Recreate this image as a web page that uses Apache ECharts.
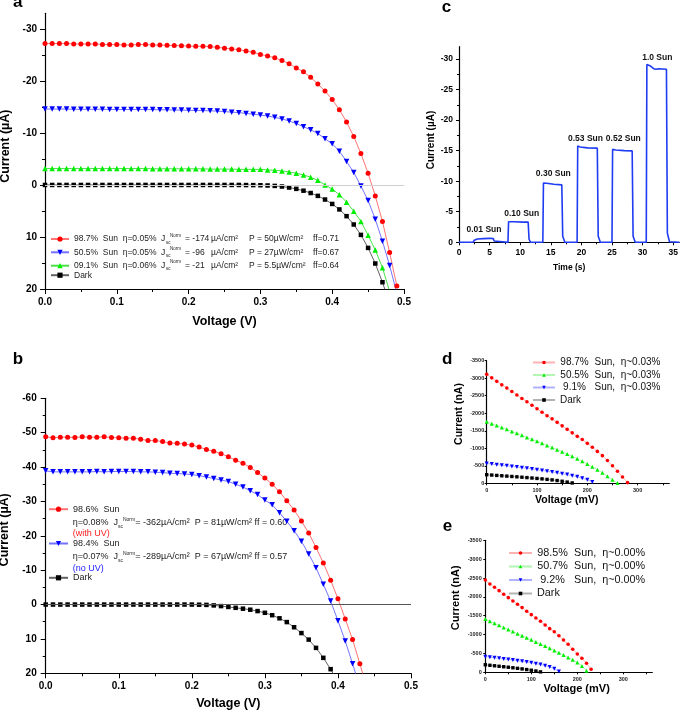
<!DOCTYPE html>
<html>
<head>
<meta charset="utf-8">
<script src="https://cdn.jsdelivr.net/npm/echarts@6.0.0/dist/echarts.min.js"></script>
<style>
html,body{margin:0;padding:0;background:#ffffff;}
#chart{width:680px;height:711px;}
</style>
</head>
<body>
<div id="chart"></div>
<script>
// ---------------- data ----------------
// Panels a & b : voltage (V)
const voltsAB = [0,0.01,0.02,0.03,0.04,0.05,0.06,0.07,0.08,0.09,0.1,0.11,0.12,0.13,0.14,0.15,0.16,0.17,0.18,0.19,0.2,0.21,0.22,0.23,0.24,0.25,0.26,0.27,0.28,0.29,0.3,0.31,0.32,0.33,0.34,0.35,0.36,0.37,0.38,0.39,0.4,0.41,0.42,0.43,0.44,0.45,0.46,0.47,0.48,0.49];

// Panel a : current (µA)
const redA = [-27.2,-27.2,-27.2,-27.2,-27.1,-27.1,-27.1,-27.1,-27.0,-27.0,
  -27.0,-26.9,-26.9,-27.0,-27.0,-26.9,-26.9,-26.85,-26.8,-26.75,
  -26.7,-26.65,-26.65,-26.6,-26.45,-26.3,-26.15,-26.0,-25.75,-25.5,
  -25.1,-24.8,-24.45,-23.95,-23.3,-22.5,-21.75,-20.7,-19.4,-18.05,
  -16.45,-14.45,-12.1,-9.3,-6.05,-2.25,2.1,7.0,13.0,19.4];
const blueA = [-14.6,-14.6,-14.6,-14.6,-14.55,-14.55,-14.55,-14.55,-14.55,-14.5,
  -14.5,-14.5,-14.5,-14.5,-14.5,-14.5,-14.45,-14.45,-14.4,-14.4,
  -14.35,-14.3,-14.3,-14.25,-14.2,-14.1,-14.0,-13.9,-13.75,-13.6,
  -13.45,-13.25,-13.0,-12.7,-12.3,-11.8,-11.2,-10.6,-9.9,-8.9,
  -7.9,-6.5,-4.5,-2.4,0.2,3.0,6.6,10.8,15.5,20.8];
const greenA = [-3.15,-3.15,-3.15,-3.15,-3.15,-3.15,-3.15,-3.15,-3.15,-3.15,
  -3.15,-3.15,-3.15,-3.15,-3.15,-3.1,-3.1,-3.1,-3.1,-3.1,
  -3.1,-3.1,-3.1,-3.05,-3.05,-3.05,-3.05,-3.0,-3.0,-3.0,
  -3.0,-2.9,-2.83,-2.7,-2.5,-2.25,-1.93,-1.48,-0.9,0.0,
  0.8,1.86,3.3,5.05,7.0,9.65,12.5,15.9,20.5,25.5];
const darkA = [0,0,0,0,0,0,0,0,0,0,
  0,0,0,0,0,0,0,0,0,0,
  0,0,0,0,0,0,0,0,0.02,0.03,
  0.05,0.1,0.18,0.3,0.5,0.75,1.1,1.55,2.1,2.8,
  3.65,4.7,6.0,7.6,9.6,12.1,15.1,18.7,22.8];

// Panel b : current (µA)
const redB = [-48.8,-48.5,-48.7,-48.7,-48.6,-48.8,-48.7,-48.7,-48.8,-48.6,
  -48.5,-48.4,-48.4,-48.1,-47.7,-47.7,-47.4,-47.0,-46.9,-46.7,
  -46.4,-45.8,-45.1,-44.6,-43.9,-43.0,-42.0,-41.1,-39.9,-38.4,
  -36.8,-35.0,-32.8,-30.2,-27.5,-24.3,-20.8,-16.6,-12.1,-7.1,
  -1.7,4.2,10.2,17.2,24.5];
const blueB = [-38.9,-38.6,-38.6,-38.6,-38.6,-38.6,-38.6,-38.7,-38.6,-38.7,
  -38.7,-38.7,-38.7,-38.6,-38.6,-38.5,-38.4,-38.2,-38.1,-38.0,
  -37.8,-37.5,-37.1,-36.7,-36.2,-35.8,-35.0,-34.2,-33.1,-32.0,
  -30.4,-29.0,-26.7,-24.2,-21.5,-18.4,-14.7,-10.7,-5.9,-1.0,
  4.7,10.6,17.2,24.0];
const darkB = [0,0,0,0,0,0,0,0,0,0,
  0,0,0,0,0,0,0,0,0,0,
  0,0.05,0.1,0.25,0.45,0.7,0.95,1.2,1.5,1.9,
  2.4,3.1,4.0,5.1,6.6,8.3,10.2,12.6,15.5,18.8,
  22.5];

// Panel c : [time (s), current (µA)]
const traceC = [[0,0],[2.3,0],[2.5,-0.35],[3.0,-0.55],[4.0,-0.6],[5.0,-0.65],[5.6,-0.6],[5.75,-0.2],[5.9,0],
  [8.0,0],[8.1,-3.35],[9.0,-3.35],[10.5,-3.3],[11.3,-3.3],[11.45,-0.5],[11.7,0],
  [13.7,0],[13.8,-9.7],[14.3,-9.65],[15.5,-9.5],[16.8,-9.4],[16.95,-1.0],[17.3,0],
  [19.3,0],[19.4,-15.75],[19.8,-15.6],[21.0,-15.45],[22.6,-15.4],[22.75,-1.0],[23.1,0],
  [25.0,0],[25.1,-15.2],[25.6,-15.1],[27.0,-15.0],[28.3,-14.95],[28.45,-1.0],[28.8,0],
  [30.6,0],[30.7,-29.1],[31.2,-28.9],[31.8,-28.4],[32.2,-28.3],[32.6,-28.4],[33.9,-28.3],[34.05,-1.5],[34.4,-0.1],[36,0]];
const pulseLabels = ['0.01 Sun','0.10 Sun','0.30 Sun','0.53 Sun','0.52 Sun','1.0 Sun'];

// Panels d & e : voltage (mV), current (nA)
const voltsDE = [0,10,20,30,40,50,60,70,80,90,100,110,120,130,140,150,160,170,180,190,200,210,220,230,240,250,260,270,280];
const redD = [-3114,-3010,-2910,-2810,-2720,-2620,-2520,-2420,-2330,-2230,-2130,-2030,-1930,-1840,-1740,-1640,-1540,-1440,-1340,-1250,-1140,-1030,-910,-790,-650,-500,-345,-180,-20];
const greenD = [-1760,-1700,-1650,-1590,-1540,-1480,-1430,-1370,-1310,-1260,-1200,-1140,-1080,-1020,-960,-900,-840,-770,-700,-630,-550,-470,-390,-300,-200,-100,-10];
const blueD = [-565,-548,-532,-516,-500,-482,-465,-447,-428,-408,-388,-367,-345,-322,-299,-274,-248,-218,-184,-145,-100,-40];
const darkD = [-245,-235,-225,-215,-205,-195,-185,-174,-163,-151,-139,-126,-112,-97,-79,-58,-35,-10];
const redE = [-2448,-2342,-2254,-2165,-2068,-1980,-1891,-1803,-1715,-1618,-1529,-1440,-1352,-1254,-1157,-1077,-971,-857,-742,-610,-485,-371,-239,-80];
const greenE = [-1410,-1355,-1300,-1245,-1190,-1135,-1080,-1025,-970,-915,-860,-805,-750,-695,-640,-580,-520,-460,-395,-330,-260,-170,-40];
const blueE = [-415,-400,-385,-370,-355,-340,-325,-308,-290,-272,-252,-230,-205,-176,-140,-95,-20];
const darkE = [-200,-186,-173,-160,-147,-134,-120,-105,-90,-73,-55,-35,-12];

// Legend texts
const sunA = ['98.7%','50.5%','09.1%'];
const etaA = ['0.05%','0.05%','0.06%'];
const jscA = ['-174','-96','-21'];
const powA = ['50','27','5.5'];
const ffA  = ['0.71','0.67','0.64'];
const sunB = ['98.6%','98.4%'];
const etaB = ['0.08%','0.07%'];
const jscB = ['-362','-289'];
const powB = ['81','67'];
const ffB  = ['0.60','0.57'];
const uvB  = ['(with UV)','(no UV)'];
const sunD = ['98.7%','50.5%','9.1%'];
const etaD = ['0.03%','0.03%','0.03%'];
const sunE = ['98.5%','50.7%','9.2%'];
const etaE = ['0.00%','0.00%','0.00%'];

// Tick values
const ticksAy = [-30,-20,-10,0,10,20];
const minorAy = [-25,-15,-5,5,15];
const ticksCx = [0,5,10,15,20,25,30,35];
const minorCx = [2.5,7.5,12.5,17.5,22.5,27.5,32.5];
const ticksCy = [-30,-25,-20,-15,-10,-5,0];
const minorCy = [-27.5,-22.5,-17.5,-12.5,-7.5,-2.5];
const ticksDEx = [0,100,200,300];
const allTicksDEx = [0,50,100,150,200,250,300,350];

// ---------------- helpers ----------------
const FONT = 'Liberation Sans, Arial, Helvetica, sans-serif';
const zip = (xs, ys) => ys.map((y, i) => [xs[i], y]);
function merge(a, b) {
  const out = Array.isArray(a) ? a.slice() : Object.assign({}, a);
  for (const k in b) {
    const v = b[k];
    if (v && typeof v === 'object' && !Array.isArray(v) && typeof v !== 'function' && a && typeof a[k] === 'object' && !Array.isArray(a[k])) {
      out[k] = merge(a[k], v);
    } else out[k] = v;
  }
  return out;
}
const AX = {
  type: 'value',
  axisLine: { show: true, onZero: false, lineStyle: { color: '#000', width: 1.2 } },
  axisTick: { show: true, inside: false, length: 5, lineStyle: { color: '#000', width: 1 } },
  axisLabel: { color: '#000', fontWeight: 'bold', fontSize: 10, fontFamily: FONT, margin: 8 },
  splitLine: { show: false },
  nameLocation: 'middle',
  nameTextStyle: { color: '#000', fontWeight: 'bold', fontFamily: FONT }
};
const ax = o => merge(AX, o);
const helper = o => merge(AX, merge({ axisLine: { show: false }, axisLabel: { show: false } }, o));

function ser(name, xi, yi, data, sym, size, color, lineColor, rot, extra) {
  return Object.assign({
    name, type: 'line', xAxisIndex: xi, yAxisIndex: yi, data,
    symbol: sym, symbolSize: size, symbolRotate: rot || 0, showAllSymbol: true,
    clip: true, animation: false,
    itemStyle: { color: color },
    lineStyle: { color: lineColor, width: 1 },
    emphasis: { disabled: true }
  }, extra || {});
}

const RED = '#ff0000', BLUE = '#0000ff', GREEN = '#00ee00', BLACK = '#000000';

// ---------------- series ----------------
const series = [
  // panel a
  ser('A-dark', 0, 0, zip(voltsAB, darkA), 'rect', 4.5, BLACK, 'rgba(70,70,70,0.85)', 0, {
    markLine: { silent: true, symbol: ['none', 'none'], label: { show: false }, animation: false,
      lineStyle: { color: '#cfcfcf', type: 'solid', width: 1 }, data: [{ yAxis: 0 }] } }),
  ser('A-green', 0, 0, zip(voltsAB, greenA), 'triangle', 5.5, GREEN, 'rgba(40,220,40,0.85)'),
  ser('A-blue', 0, 0, zip(voltsAB, blueA), 'triangle', 5.5, BLUE, 'rgba(90,90,255,0.85)', 180),
  ser('A-red', 0, 0, zip(voltsAB, redA), 'circle', 5, RED, 'rgba(255,90,90,0.85)'),
  // panel b
  ser('B-dark', 1, 2, zip(voltsAB, darkB), 'rect', 4.5, BLACK, 'rgba(70,70,70,0.85)', 0, {
    markLine: { silent: true, symbol: ['none', 'none'], label: { show: false }, animation: false,
      lineStyle: { color: '#555555', type: 'solid', width: 1 }, data: [{ yAxis: 0 }] } }),
  ser('B-blue', 1, 2, zip(voltsAB, blueB), 'triangle', 5.5, BLUE, 'rgba(90,90,255,0.85)', 180),
  ser('B-red', 1, 2, zip(voltsAB, redB), 'circle', 5, RED, 'rgba(255,90,90,0.85)'),
  // panel c
  { name: 'C-trace', type: 'line', xAxisIndex: 2, yAxisIndex: 3, data: traceC, symbol: 'none',
    animation: false, lineStyle: { color: '#1f3cf2', width: 1.6 }, emphasis: { disabled: true } },
  // panel d
  ser('D-red', 4, 5, zip(voltsDE, redD), 'circle', 3.6, RED, 'rgba(255,0,0,0.3)'),
  ser('D-green', 4, 5, zip(voltsDE, greenD), 'triangle', 4, GREEN, 'rgba(0,220,0,0.3)'),
  ser('D-blue', 4, 5, zip(voltsDE, blueD), 'triangle', 4, BLUE, 'rgba(0,0,255,0.3)', 180),
  ser('D-dark', 4, 5, zip(voltsDE, darkD), 'rect', 3.4, BLACK, 'rgba(0,0,0,0.3)'),
  // panel e
  ser('E-red', 5, 6, zip(voltsDE, redE), 'circle', 3.6, RED, 'rgba(255,0,0,0.3)'),
  ser('E-green', 5, 6, zip(voltsDE, greenE), 'triangle', 4, GREEN, 'rgba(0,220,0,0.3)'),
  ser('E-blue', 5, 6, zip(voltsDE, blueE), 'triangle', 4, BLUE, 'rgba(0,0,255,0.3)', 180),
  ser('E-dark', 5, 6, zip(voltsDE, darkE), 'rect', 3.4, BLACK, 'rgba(0,0,0,0.3)')
];

// ---------------- legends ----------------
const legendText = {};
['A-red', 'A-blue', 'A-green'].forEach((n, i) => {
  legendText[n] = `{t|${sunA[i]}  Sun  η=${etaA[i]}}{j|J}{s|sc}{n|Norm}{e|= ${jscA[i]}}{u|µA/cm²}{p|P = ${powA[i]}µW/cm²}{f|ff=${ffA[i]}}`;
});
legendText['A-dark'] = '{t|Dark}';
['B-red', 'B-blue'].forEach((n, i) => { legendText[n] = `{t|${sunB[i]}  Sun}`; });
legendText['B-dark'] = '{t|Dark}';
['D-red', 'D-green', 'D-blue'].forEach((n, i) => { legendText[n] = `{p|${sunD[i]}}{t|  Sun,  η~${etaD[i]}}`; });
legendText['D-dark'] = '{t|Dark}';
['E-red', 'E-green', 'E-blue'].forEach((n, i) => { legendText[n] = `{p|${sunE[i]}}{t|  Sun,  η~${etaE[i]}}`; });
legendText['E-dark'] = '{t|Dark}';

const richA = {
  t: { width: 87, fontSize: 8.5, lineHeight: 12, color: '#222', fontFamily: FONT },
  j: { width: 5, fontSize: 8.5, lineHeight: 12, color: '#222', fontFamily: FONT },
  s: { width: 4, fontSize: 4.5, verticalAlign: 'bottom', color: '#222', fontFamily: FONT },
  n: { width: 15, fontSize: 4.5, verticalAlign: 'top', color: '#222', fontFamily: FONT },
  e: { width: 26, fontSize: 8.5, lineHeight: 12, color: '#222', fontFamily: FONT },
  u: { width: 38, fontSize: 8.5, lineHeight: 12, color: '#222', fontFamily: FONT },
  p: { width: 64, fontSize: 8.5, lineHeight: 12, color: '#222', fontFamily: FONT },
  f: { fontSize: 8.5, lineHeight: 12, color: '#222', fontFamily: FONT }
};
const richB = { t: { fontSize: 9, lineHeight: 12, color: '#222', fontFamily: FONT } };
const richD = {
  p: { width: 29, align: 'right', fontSize: 10, lineHeight: 12, color: '#111', fontFamily: FONT },
  t: { fontSize: 10, lineHeight: 12, color: '#111', fontFamily: FONT }
};
const richE = {
  p: { width: 31, align: 'right', fontSize: 10.8, lineHeight: 13, color: '#111', fontFamily: FONT },
  t: { fontSize: 10.8, lineHeight: 13, color: '#111', fontFamily: FONT }
};
function leg(name, left, top, iw, ih, rich) {
  return {
    data: [name], left, top, orient: 'horizontal', padding: 0, itemGap: 0,
    itemWidth: iw, itemHeight: ih, selectedMode: false,
    formatter: n => legendText[n],
    textStyle: { rich, fontFamily: FONT }
  };
}
const legends = [
  leg('A-red', 50, 233, 18, 6.5, richA),
  leg('A-blue', 50, 246.3, 18, 6.5, richA),
  leg('A-green', 50, 259.7, 18, 6.5, richA),
  leg('A-dark', 50, 270.7, 18, 6.5, richA),
  leg('B-red', 48, 504.7, 19, 6.5, richB),
  leg('B-blue', 48, 539, 19, 6.5, richB),
  leg('B-dark', 48, 573.3, 19, 6.5, richB),
  leg('D-red', 532, 357.5, 22, 4.5, richD),
  leg('D-green', 532, 370, 22, 4.5, richD),
  leg('D-blue', 532, 382.5, 22, 4.5, richD),
  leg('D-dark', 532, 395, 22, 4.5, richD),
  leg('E-red', 508, 547.5, 23, 4.5, richE),
  leg('E-green', 508, 561, 23, 4.5, richE),
  leg('E-blue', 508, 574.5, 23, 4.5, richE),
  leg('E-dark', 508, 588, 23, 4.5, richE)
];

// ---------------- graphic texts ----------------
const graphics = [];
[['a', 13, 2.5], ['b', 12.7, 359.5], ['c', 441.7, 7.8], ['d', 442, 359.5], ['e', 442.7, 526.2]].forEach(l => {
  graphics.push({ type: 'text', x: l[1], y: l[2], silent: true,
    style: { text: l[0], fontSize: 17, fontWeight: 'bold', fontFamily: FONT, fill: '#000', align: 'left', verticalAlign: 'middle' } });
});
const pulsePos = [[484, 230], [521.7, 213.3], [553.3, 173.3], [585.5, 139], [623.3, 139], [657.3, 57.3]];
pulseLabels.forEach((t, i) => {
  graphics.push({ type: 'text', x: pulsePos[i][0], y: pulsePos[i][1], silent: true,
    style: { text: t, fontSize: 8.5, fontWeight: 'bold', fontFamily: FONT, fill: '#111', align: 'center', verticalAlign: 'middle' } });
});
const richBx = {
  t: { fontSize: 9, lineHeight: 12, fill: '#222', fontFamily: FONT },
  s: { fontSize: 5, verticalAlign: 'bottom', fill: '#222', fontFamily: FONT },
  n: { fontSize: 5, verticalAlign: 'top', fill: '#222', fontFamily: FONT }
};
const bLineY = [[522.7, 534], [557, 568.7]];
const uvColors = ['#ff2020', '#2020ff'];
[0, 1].forEach(i => {
  graphics.push({ type: 'text', x: 72.7, y: bLineY[i][0], silent: true,
    style: { text: `{t|η=${etaB[i]}  J}{s|sc}{n|Norm}{t|= ${jscB[i]}µA/cm²  P = ${powB[i]}µW/cm² ff = ${ffB[i]}}`,
      rich: richBx, fontSize: 9, fontFamily: FONT, fill: '#222', align: 'left', verticalAlign: 'middle' } });
  graphics.push({ type: 'text', x: 72.7, y: bLineY[i][1], silent: true,
    style: { text: uvB[i], fontSize: 9, fontFamily: FONT, fill: uvColors[i], align: 'left', verticalAlign: 'middle' } });
});

// ---------------- option ----------------
const plain = v => String(v);
const option = {
  animation: false,
  textStyle: { fontFamily: FONT },
  grid: [
    { left: 45, top: 13.3, width: 359, height: 275.7, containLabel: false, outerBoundsMode: 'none' },
    { left: 45.7, top: 398.3, width: 365.3, height: 275, containLabel: false, outerBoundsMode: 'none' },
    { left: 459, top: 46.7, width: 220.3, height: 195.6, containLabel: false, outerBoundsMode: 'none' },
    { left: 486.7, top: 360.7, width: 182.6, height: 122.6, containLabel: false, outerBoundsMode: 'none' },
    { left: 485.3, top: 540.3, width: 167, height: 132, containLabel: false, outerBoundsMode: 'none' }
  ],
  xAxis: [
    ax({ gridIndex: 0, min: 0, max: 0.5, interval: 0.1,
      minorTick: { show: true, splitNumber: 2, length: 3, lineStyle: { color: '#000' } },
      axisLabel: { formatter: v => v.toFixed(1) },
      name: 'Voltage (V)', nameGap: 26.5, nameTextStyle: { fontSize: 12.5 } }),
    ax({ gridIndex: 1, min: 0, max: 0.5, interval: 0.1,
      minorTick: { show: true, splitNumber: 2, length: 3, lineStyle: { color: '#000' } },
      axisLabel: { formatter: v => v.toFixed(1) },
      name: 'Voltage (V)', nameGap: 23.5, nameTextStyle: { fontSize: 12.5 } }),
    ax({ gridIndex: 2, min: 0, max: 36,
      axisTick: { customValues: ticksCx, length: 3 },
      axisLabel: { customValues: ticksCx, fontSize: 8.5, margin: 5.5, formatter: plain },
      name: 'Time (s)', nameGap: 20.5, nameTextStyle: { fontSize: 8.5 } }),
    helper({ gridIndex: 2, min: 0, max: 36, position: 'bottom', axisTick: { customValues: minorCx, length: 2 } }),
    ax({ gridIndex: 3, min: 0, max: 363,
      axisTick: { customValues: allTicksDEx, length: 2 },
      axisLabel: { customValues: ticksDEx, fontSize: 5.5, margin: 4.6, color: '#222', formatter: plain },
      name: 'Voltage (mV)', nameGap: 11.5, nameTextStyle: { fontSize: 10.5, padding: [0, 22.6, 0, 0] } }),
    ax({ gridIndex: 4, min: 0, max: 363,
      axisTick: { customValues: allTicksDEx, length: 2 },
      axisLabel: { customValues: ticksDEx, fontSize: 5.5, margin: 4.3, color: '#222', formatter: plain },
      name: 'Voltage (mV)', nameGap: 9.9, nameTextStyle: { fontSize: 11, padding: [0, 0, 0, 15.6] } })
  ],
  yAxis: [
    ax({ gridIndex: 0, inverse: true, min: -33, max: 20,
      axisTick: { customValues: ticksAy },
      axisLabel: { customValues: ticksAy, formatter: plain },
      name: 'Current (µA)', nameGap: 32.5, nameTextStyle: { fontSize: 12.5, padding: [0, 0, 0, 10] } }),
    helper({ gridIndex: 0, inverse: true, min: -33, max: 20, position: 'left', axisTick: { customValues: minorAy, length: 3 } }),
    ax({ gridIndex: 1, inverse: true, min: -60, max: 20, interval: 10,
      minorTick: { show: true, splitNumber: 2, length: 3, lineStyle: { color: '#000' } },
      axisLabel: { margin: 9, formatter: plain },
      name: 'Current (µA)', nameGap: 29.5, nameTextStyle: { fontSize: 12.5, padding: [0, 0, 0, 12] } }),
    ax({ gridIndex: 2, inverse: true, min: -32, max: 0,
      axisTick: { customValues: ticksCy, length: 3 },
      axisLabel: { customValues: ticksCy, fontSize: 8.5, margin: 6, formatter: plain },
      name: 'Current (µA)', nameGap: 22.3, nameTextStyle: { fontSize: 10, padding: [0, 0, 0, 9] } }),
    helper({ gridIndex: 2, inverse: true, min: -32, max: 0, position: 'left', axisTick: { customValues: minorCy, length: 2 } }),
    ax({ gridIndex: 3, inverse: true, min: -3500, max: 0, interval: 500,
      axisTick: { length: 2 },
      axisLabel: { fontSize: 5.5, margin: 2.5, color: '#222', formatter: plain },
      name: 'Current (nA)', nameGap: 22.5, nameTextStyle: { fontSize: 10.5, padding: [0, 0, 0, 16] } }),
    ax({ gridIndex: 4, inverse: true, min: -3500, max: 0, interval: 500,
      axisTick: { length: 2 },
      axisLabel: { fontSize: 5.5, margin: 3.6, color: '#222', formatter: plain },
      name: 'Current (nA)', nameGap: 23.8, nameTextStyle: { fontSize: 11, padding: [0, 0, 0, 17] } })
  ],
  legend: legends,
  graphic: graphics,
  series
};

const chart = echarts.init(document.getElementById('chart'), null, { renderer: 'canvas' });
chart.setOption(option);
</script>
</body>
</html>
